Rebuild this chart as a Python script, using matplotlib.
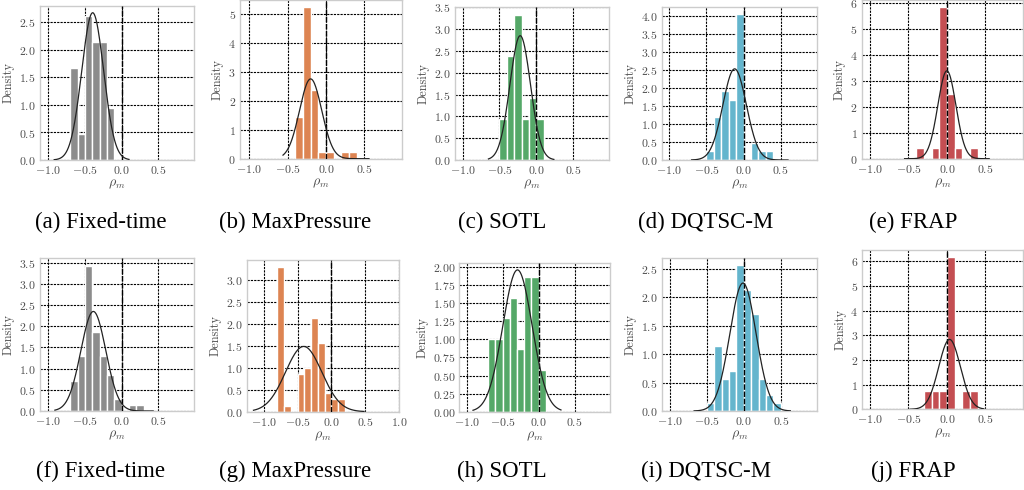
import numpy as np
import matplotlib
matplotlib.use('Agg')
import matplotlib.pyplot as plt
from matplotlib.ticker import MultipleLocator

# |==============| Daten |==============|
methods = ['Fixed-time', 'MaxPressure', 'SOTL', 'DQTSC-M', 'FRAP']
letters = ['a', 'b', 'c', 'd', 'e', 'f', 'g', 'h', 'i', 'j']
bin_width = 0.1

# histogram densities (bins of 0.1), first bin edge for each panel
bin_start = [-0.7, -0.4, -0.5, -0.5, -0.4,
             -0.7, -0.8, -0.7, -0.5, -0.3]
hist_a = [1.67, 0.48, 2.62, 2.14, 2.14, 0.95]
hist_b = [1.43, 5.24, 2.38, 0.24, 0.24, 0.0, 0.24, 0.24]
hist_c = [0.95, 2.38, 3.33, 0.95, 1.43, 0.95]
hist_d = [0.24, 1.19, 1.90, 1.67, 4.05, 0.0, 0.48, 0.24, 0.24]
hist_e = [0.40, 0.0, 0.40, 5.84, 2.48, 0.40, 0.0, 0.40]
hist_f = [0.71, 1.29, 3.43, 1.86, 1.29, 0.86, 0.29, 0.0, 0.14, 0.14]
hist_g = [3.29, 0.14, 0.0, 0.86, 1.00, 2.14, 1.57, 0.43, 0.29, 0.29]
hist_h = [1.00, 1.00, 1.29, 1.57, 0.86, 1.86, 1.86, 0.57]
hist_i = [0.14, 1.14, 0.57, 0.71, 2.57, 2.14, 1.71, 0.57, 0.29, 0.14]
hist_j = [0.75, 0.75, 0.75, 6.15, 0.0, 0.75, 0.75]
hists = [hist_a, hist_b, hist_c, hist_d, hist_e,
         hist_f, hist_g, hist_h, hist_i, hist_j]

# fitted normal curves: mean, std, plotted x range
fit_mu = [-0.395, -0.20, -0.218, -0.12, 0.0,
          -0.386, -0.41, -0.293, -0.01, 0.035]
fit_sd = [0.149, 0.1445, 0.140, 0.158, 0.1177,
          0.170, 0.268, 0.2035, 0.177, 0.141]
fit_lo = [-0.92, -0.56, -0.65, -0.70, -0.55, -0.91, -1.15, -0.91, -0.67, -0.48]
fit_hi = [0.10, 0.56, 0.24, 0.60, 0.55, 0.43, 0.48, 0.31, 0.63, 0.48]

colors = ['#8c8c8c', '#dd8452', '#55a868', '#64b5cd', '#c44e52']

# |==============| Layout (Pixel) |==============|
W, H = 1024, 490
# left, right, top, bottom
boxes = [(40, 194.3, 6, 160), (240, 402, 0, 158.7), (455, 609, 7.3, 160),
         (661.7, 817, 7.3, 160), (861.7, 1023, 0, 158.7),
         (40, 194.3, 258.3, 411), (246.7, 399.3, 260, 411.7), (459.3, 610, 262.7, 411.7),
         (662, 817, 258.3, 411), (862.3, 1023, 250, 409.3)]
xlims = [(-1.113, 0.99), (-1.12, 0.99), (-1.105, 0.99), (-1.103, 0.99), (-1.108, 0.99),
         (-1.113, 0.99), (-1.25, 1.0), (-1.10, 0.99), (-1.104, 0.99), (-1.10, 0.99)]
ymax = [2.80, 5.49, 3.50, 4.23, 6.12, 3.60, 3.46, 2.06, 2.69, 6.45]
ystep = [0.5, 1, 0.5, 0.5, 1, 0.5, 0.5, 0.25, 0.5, 1]
cap_x = [101, 295, 502, 706, 913]
cap_y = [222, 471]

plt.rcParams['font.family'] = 'serif'
plt.rcParams['font.serif'] = ['cmr10']
plt.rcParams['mathtext.fontset'] = 'cm'
plt.rcParams['axes.formatter.use_mathtext'] = True

fig = plt.figure(figsize=(W / 100, H / 100), dpi=100)
txt_col = '0.3'

for k in range(10):
    l, r, t, b = boxes[k]
    ax = fig.add_axes([l / W, 1 - b / H, (r - l) / W, (b - t) / H])
    col = colors[k % 5]
    heights = hists[k]
    lefts = bin_start[k] + bin_width * np.arange(len(heights))
    ax.bar(lefts, heights, width=bin_width, align='edge', color=col,
           edgecolor='white', linewidth=1.0, zorder=2)

    xs = np.linspace(fit_lo[k], fit_hi[k], 200)
    ys = np.exp(-0.5 * ((xs - fit_mu[k]) / fit_sd[k]) ** 2) / (fit_sd[k] * np.sqrt(2 * np.pi))
    ax.plot(xs, ys, color='#222222', linewidth=0.9, zorder=4)

    ax.axvline(0, color='black', linewidth=1.0, linestyle=(0, (4, 1.2)), zorder=3)

    ax.set_xlim(*xlims[k])
    ax.set_ylim(0, ymax[k])
    ax.xaxis.set_major_locator(MultipleLocator(0.5))
    ax.yaxis.set_major_locator(MultipleLocator(ystep[k]))
    ax.grid(True, color='black', linestyle=(0, (2, 1)), linewidth=0.8, zorder=0)
    ax.set_axisbelow(True)
    for s in ax.spines.values():
        s.set_color('#cccccc')
        s.set_linewidth(1.0)
    ax.tick_params(length=0, pad=3, labelsize=8.5, colors=txt_col)
    ax.set_ylabel('Density', fontsize=8.8, color=txt_col, labelpad=3)
    ax.set_xlabel(r'$\rho_m$', fontsize=10, color=txt_col, labelpad=1)

    row = k // 5
    fig.text(cap_x[k % 5] / W, 1 - cap_y[row] / H, '(%s) %s' % (letters[k], methods[k % 5]),
             ha='center', va='center', fontsize=16.5, family='Liberation Serif')

fig.savefig('out.png', dpi=100)
